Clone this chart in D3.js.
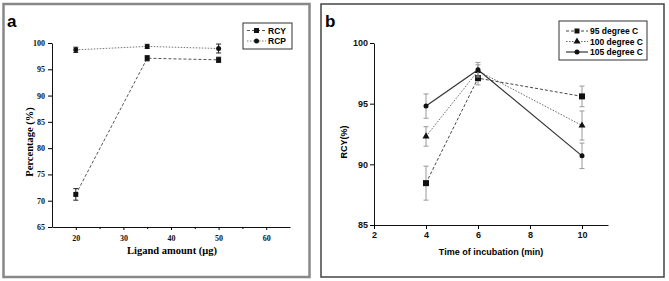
<!DOCTYPE html>
<html lang="en">
<head>
  <meta charset="UTF-8">
  <title>RCY / RCP panels</title>
  <script src="https://d3js.org/d3.v7.min.js"></script>
  <style>
    body, html { margin: 0; background: #fff; }
    svg { display: block; }
  </style>
</head>
<body>
<svg id="chart" width="669" height="281"></svg>
<script>
  // panel a data
  const ligand = [20, 35, 50];
  const rcyA = [71.2, 97.1, 96.8];
  const rcyAErr = [1.1, 0.5, 0.5];
  const rcpA = [98.7, 99.35, 98.95];
  const rcpAErr = [0.5, 0.4, 0.85];
  const ticksA_x = [20, 30, 40, 50, 60];
  const minorA_x = [25, 35, 45, 55];
  const ticksA_y = [65, 70, 75, 80, 85, 90, 95, 100];

  // panel b data
  const time = [4, 6, 10];
  const rcy95 = [88.45, 97.1, 95.6];
  const err95 = [1.4, 0.55, 0.85];
  const rcy100 = [92.3, 97.7, 93.2];
  const err100 = [0.8, 0.5, 1.2];
  const rcy105 = [94.8, 97.8, 90.7];
  const err105 = [1.0, 0.6, 1.05];
  const ticksB_x = [2, 4, 6, 8, 10];
  const ticksB_y = [85, 90, 95, 100];

  const svg = d3.select("#chart");

  // panel frames
  svg.append("rect").attr("x", 3.5).attr("y", 4).attr("width", 306).attr("height", 273)
     .attr("fill", "none").attr("stroke", "#888").attr("stroke-width", 2.5);
  svg.append("rect").attr("x", 321).attr("y", 4).attr("width", 343).attr("height", 273)
     .attr("fill", "none").attr("stroke", "#444").attr("stroke-width", 1.5);

  svg.append("text").attr("x", 7).attr("y", 27).text("a")
     .style("font-family", "Liberation Sans, Arial, sans-serif").style("font-weight", "bold").style("font-size", "17px");
  svg.append("text").attr("x", 325).attr("y", 27).text("b")
     .style("font-family", "Liberation Sans, Arial, sans-serif").style("font-weight", "bold").style("font-size", "17px");

  function marker(g, shape, x, y, size) {
    if (shape === "square") {
      g.append("rect").attr("x", x - size / 2).attr("y", y - size / 2)
       .attr("width", size).attr("height", size).attr("fill", "#111");
    } else if (shape === "circle") {
      g.append("circle").attr("cx", x).attr("cy", y).attr("r", size / 2).attr("fill", "#111");
    } else {
      const s = d3.symbol().type(d3.symbolTriangle).size(size * size * 0.6);
      g.append("path").attr("d", s()).attr("transform", `translate(${x},${y})`).attr("fill", "#111");
    }
  }

  function drawSeries(g, x, y, xs, ys, errs, opt) {
    const pts = xs.map((d, i) => [d, ys[i], errs[i]]);
    const line = d3.line().x(d => x(d[0])).y(d => y(d[1]));
    g.append("path").datum(pts).attr("d", line).attr("fill", "none")
     .attr("stroke", opt.stroke).attr("stroke-width", opt.width)
     .attr("stroke-dasharray", opt.dash);
    pts.forEach(d => {
      const cx = x(d[0]);
      g.append("line").attr("x1", cx).attr("x2", cx)
       .attr("y1", y(d[1] + d[2])).attr("y2", y(d[1] - d[2]))
       .attr("stroke", opt.errColor).attr("stroke-width", 1);
      [d[1] + d[2], d[1] - d[2]].forEach(v => {
        g.append("line").attr("x1", cx - 2.5).attr("x2", cx + 2.5)
         .attr("y1", y(v)).attr("y2", y(v))
         .attr("stroke", opt.errColor).attr("stroke-width", 1);
      });
      marker(g, opt.shape, cx, y(d[1]), opt.size);
    });
  }

  function legend(g, x0, y0, w, h, items, font) {
    g.append("rect").attr("x", x0).attr("y", y0).attr("width", w).attr("height", h)
     .attr("fill", "#fff").attr("stroke", "#333").attr("stroke-width", 1);
    items.forEach((it, i) => {
      const yy = y0 + it.dy;
      g.append("line").attr("x1", it.lx1).attr("x2", it.lx2).attr("y1", yy).attr("y2", yy)
       .attr("stroke", it.stroke).attr("stroke-width", it.width).attr("stroke-dasharray", it.dash);
      marker(g, it.shape, (it.lx1 + it.lx2) / 2, yy, it.size);
      g.append("text").attr("x", it.lx2 + 2).attr("y", yy + 3).text(it.label)
       .style("font-family", font).style("font-weight", "bold").style("font-size", "8.5px");
    });
  }

  // ---------- panel a ----------
  const serif = "Liberation Serif, Times New Roman, serif";
  const sans = "Liberation Sans, Arial, sans-serif";
  const xa = d3.scaleLinear().domain([15, 65]).range([52, 290]);
  const ya = d3.scaleLinear().domain([65, 100]).range([227, 43]);
  const ga = svg.append("g");

  const axA_x = ga.append("g").attr("transform", "translate(0,227)")
    .call(d3.axisBottom(xa).tickValues(ticksA_x).tickSize(3).tickPadding(5).tickSizeOuter(0));
  ga.append("g").attr("transform", "translate(0,227)")
    .call(d3.axisBottom(xa).tickValues(minorA_x).tickSize(2).tickFormat("").tickSizeOuter(0))
    .select(".domain").remove();
  const axA_y = ga.append("g").attr("transform", "translate(52,0)")
    .call(d3.axisLeft(ya).tickValues(ticksA_y).tickSize(4).tickPadding(3).tickSizeOuter(0));
  [axA_x, axA_y].forEach(a => a.selectAll("text")
    .style("font-family", serif).style("font-weight", "bold").style("font-size", "8px").attr("fill", "#111"));
  ga.selectAll(".domain").attr("stroke", "#111");

  ga.append("text").attr("x", 172).attr("y", 254).attr("text-anchor", "middle")
    .text("Ligand amount (μg)")
    .style("font-family", serif).style("font-weight", "bold").style("font-size", "10.5px");
  ga.append("text").attr("transform", "translate(33,142) rotate(-90)").attr("text-anchor", "middle")
    .text("Percentage (%)")
    .style("font-family", serif).style("font-weight", "bold").style("font-size", "10.5px");

  drawSeries(ga, xa, ya, ligand, rcpA, rcpAErr,
    { stroke: "#777", width: 1, dash: "1.5,1.5", errColor: "#222", shape: "circle", size: 5 });
  drawSeries(ga, xa, ya, ligand, rcyA, rcyAErr,
    { stroke: "#555", width: 1, dash: "3,2", errColor: "#222", shape: "square", size: 5 });

  legend(ga, 243, 23, 49, 26, [
    { label: "RCY", dy: 7.5, lx1: 247, lx2: 266, stroke: "#555", width: 1, dash: "3,2", shape: "square", size: 5 },
    { label: "RCP", dy: 18, lx1: 247, lx2: 266, stroke: "#777", width: 1, dash: "1.5,1.5", shape: "circle", size: 5 }
  ], sans);

  // ---------- panel b ----------
  const xb = d3.scaleLinear().domain([2, 11]).range([374, 608]);
  const yb = d3.scaleLinear().domain([85, 100]).range([225, 43]);
  const gb = svg.append("g");

  const axB_x = gb.append("g").attr("transform", "translate(0,225)")
    .call(d3.axisBottom(xb).tickValues(ticksB_x).tickSize(4).tickPadding(3).tickSizeOuter(0));
  const axB_y = gb.append("g").attr("transform", "translate(374,0)")
    .call(d3.axisLeft(yb).tickValues(ticksB_y).tickSize(4).tickPadding(2).tickSizeOuter(0));
  [axB_x, axB_y].forEach(a => a.selectAll("text")
    .style("font-family", sans).style("font-weight", "bold").style("font-size", "9px").attr("fill", "#111"));
  gb.selectAll(".domain").attr("stroke", "#111");

  gb.append("text").attr("x", 491).attr("y", 255).attr("text-anchor", "middle")
    .text("Time of incubation (min)")
    .style("font-family", sans).style("font-weight", "bold").style("font-size", "9px");
  gb.append("text").attr("transform", "translate(347,142) rotate(-90)").attr("text-anchor", "middle")
    .text("RCY(%)")
    .style("font-family", sans).style("font-weight", "bold").style("font-size", "9px");

  drawSeries(gb, xb, yb, time, rcy100, err100,
    { stroke: "#666", width: 1, dash: "1.5,1.5", errColor: "#999", shape: "triangle", size: 6 });
  drawSeries(gb, xb, yb, time, rcy95, err95,
    { stroke: "#444", width: 1, dash: "3,2", errColor: "#999", shape: "square", size: 6 });
  drawSeries(gb, xb, yb, time, rcy105, err105,
    { stroke: "#333", width: 1.2, dash: null, errColor: "#999", shape: "circle", size: 5 });

  legend(gb, 559, 21, 88, 39, [
    { label: "95 degree C", dy: 10, lx1: 566, lx2: 588, stroke: "#444", width: 1, dash: "3,2", shape: "square", size: 5 },
    { label: "100 degree C", dy: 20.5, lx1: 566, lx2: 588, stroke: "#666", width: 1, dash: "1.5,1.5", shape: "triangle", size: 6 },
    { label: "105 degree C", dy: 31, lx1: 566, lx2: 588, stroke: "#333", width: 1.2, dash: null, shape: "circle", size: 5 }
  ], sans);
</script>
</body>
</html>
